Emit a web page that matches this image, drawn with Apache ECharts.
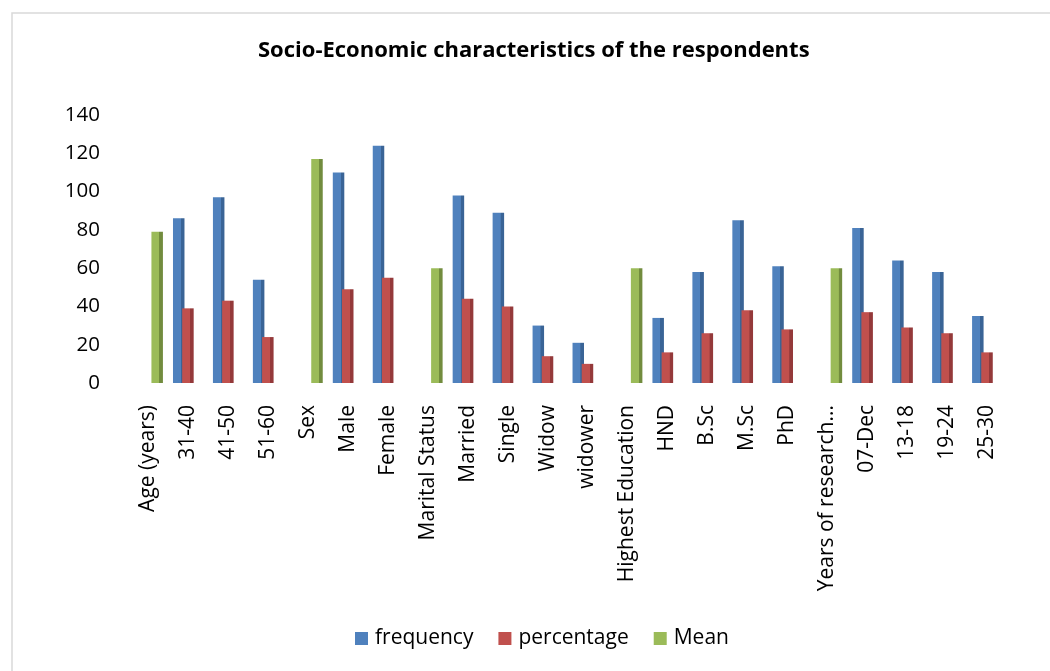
<!DOCTYPE html>
<html>
<head>
<meta charset="utf-8">
<script src="https://cdn.jsdelivr.net/npm/echarts@6/dist/echarts.min.js"></script>
<style>
html,body{margin:0;padding:0;background:#fff;}
#chart{width:1050px;height:671px;}
</style>
</head>
<body>
<div id="chart"></div>
<script>
var categories = ["Age (years)","31-40","41-50","51-60","Sex","Male","Female","Marital Status","Married","Single","Widow","widower","Highest Education","HND","B.Sc","M.Sc","PhD","Years of research...","07-Dec","13-18","19-24","25-30"];
var frequency = [null,86,97,54,null,110,124,null,98,89,30,21,null,34,58,85,61,null,81,64,58,35];
var percentage = [null,39,43,24,null,49,55,null,44,40,14,10,null,16,26,38,28,null,37,29,26,16];
var meanVals = [79,null,null,null,117,null,null,60,null,null,null,null,60,null,null,null,null,60,null,null,null,null];
var yTicks = [0,20,40,60,80,100,120,140];

function shade(main, dark){
  return {type:'linear',x:0,y:0,x2:1,y2:0,colorStops:[
    {offset:0,color:main},{offset:0.68,color:main},{offset:0.7,color:dark},{offset:1,color:dark}]};
}
var FONT = "Open Sans";
var chart = echarts.init(document.getElementById('chart'));
chart.setOption({
  animation:false,
  backgroundColor:'#fff',
  title:{text:'Socio-Economic characteristics of the respondents',left:258,top:40,padding:0,
    textStyle:{fontFamily:FONT,fontWeight:'bold',fontSize:22,color:'#000'}},
  legend:{bottom:17,left:350,itemWidth:13,itemHeight:13,itemGap:25,icon:'rect',
    textStyle:{fontFamily:FONT,fontSize:21,color:'#000',padding:[0,0,0,2]},
    data:[{name:'frequency',itemStyle:{color:'#4F81BD'}},{name:'percentage',itemStyle:{color:'#C0504D'}},{name:'Mean',itemStyle:{color:'#9BBB59'}}]},
  graphic:[{type:'rect',shape:{x:12,y:13,width:1050,height:680},style:{fill:'none',stroke:'#d9d9d9',lineWidth:1.5}}],
  grid:{left:128,right:43,top:115,bottom:288},
  xAxis:{type:'category',data:categories,
    axisLine:{show:false},axisTick:{show:false},
    axisLabel:{rotate:90,interval:0,margin:22,fontFamily:FONT,fontSize:21,color:'#000'}},
  yAxis:{type:'value',min:yTicks[0],max:yTicks[yTicks.length-1],interval:20,
    splitLine:{show:false},axisLine:{show:false},axisTick:{show:false},
    axisLabel:{margin:28,fontFamily:FONT,fontSize:20.5,color:'#000'}},
  series:[
    {name:'frequency',type:'bar',data:frequency,barWidth:11.5,barGap:'-20%',
      itemStyle:{color:shade('#4F81BD','#3A6496')}},
    {name:'percentage',type:'bar',data:percentage,barWidth:11.5,barGap:'-20%',
      itemStyle:{color:shade('#C0504D','#94393A')}},
    {name:'Mean',type:'bar',data:meanVals,barWidth:11.5,barGap:'-20%',
      itemStyle:{color:shade('#9BBB59','#728C3E')}}
  ]
});
</script>
</body>
</html>
